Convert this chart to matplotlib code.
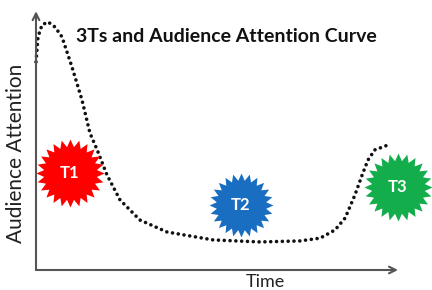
import numpy as np
import matplotlib
matplotlib.use('Agg')
import matplotlib.pyplot as plt

# ================= data =================
time_pts = [0, 0.55, 1.66, 3.31, 5.25, 7.18, 9.94, 12.7, 14.9, 16.9, 19.6, 23.2,
            28.7, 36.2, 48.9, 61.9, 72.9, 78.5, 82.6, 85.4, 88.1, 90.1, 91.7, 93.6, 97.2]
attention = [81.6, 91.4, 96.1, 97.3, 95.3, 91.4, 79.6, 66.7, 53.7, 47.1, 37.3, 27.5,
             19.6, 14.9, 11.8, 11.0, 11.4, 12.5, 15.7, 20.4, 29.4, 37.3, 43.1, 47.1, 49.0]

star_labels = ['T1', 'T2', 'T3']
star_x = [9.4, 56.6, 100.0]
star_y = [38.0, 25.5, 32.5]
star_colors = ['#ff0000', '#1a6ec2', '#14ad4c']
star_sizes = [49, 46, 49]
# ========================================

W, H = 432, 290
fig = plt.figure(figsize=(W / 100, H / 100), dpi=100)
ax = fig.add_axes([36 / W, 20 / H, (398 - 36) / W, (270 - 15) / H])
ax.set_xlim(0, 100)
ax.set_ylim(0, 100)
ax.axis('off')

# axes with open arrow heads
arrow_kw = dict(arrowstyle='->', color='#555555', lw=1.5, mutation_scale=12,
                shrinkA=0, shrinkB=0)
ax.annotate('', xy=(0, 101.5), xytext=(0, 0), xycoords='data',
            arrowprops=arrow_kw, annotation_clip=False)
ax.annotate('', xy=(100, 0), xytext=(0, 0), xycoords='data',
            arrowprops=arrow_kw, annotation_clip=False)

# attention curve (dotted)
ax.plot(time_pts, attention, color='#111111', lw=2.6,
        linestyle=(0, (0.01, 1.6)), dash_capstyle='round',
        solid_joinstyle='round', clip_on=False, zorder=2)

# starburst markers
n_spikes = 24
ang = np.linspace(0, 2 * np.pi, 2 * n_spikes, endpoint=False) + np.pi / 2
rad = np.where(np.arange(2 * n_spikes) % 2 == 0, 1.0, 0.78)
star_verts = np.column_stack([rad * np.cos(ang), rad * np.sin(ang)])
star_verts = np.vstack([star_verts, star_verts[:1]])

for lab, sx, sy, col, sz in zip(star_labels, star_x, star_y, star_colors, star_sizes):
    ax.plot(sx, sy, marker=star_verts, markersize=sz, color=col,
            markeredgewidth=0, linestyle='none', clip_on=False, zorder=3)
    ax.text(sx, sy, lab, color='white', fontsize=12, fontweight='bold',
            family='Lato', ha='center', va='center', zorder=4)

fig.text(226 / W, 1 - 36 / H, '3Ts and Audience Attention Curve',
         fontsize=14, fontweight='bold', family='Lato',
         ha='center', va='center', color='#111111')
fig.text(16 / W, 1 - 153 / H, 'Audience Attention', rotation=90,
         fontsize=15, family='Lato', ha='center', va='center', color='#222222')
fig.text(265 / W, 1 - 282 / H, 'Time', fontsize=13, family='Lato',
         ha='center', va='center', color='#222222')

fig.savefig('out.png', dpi=100)
